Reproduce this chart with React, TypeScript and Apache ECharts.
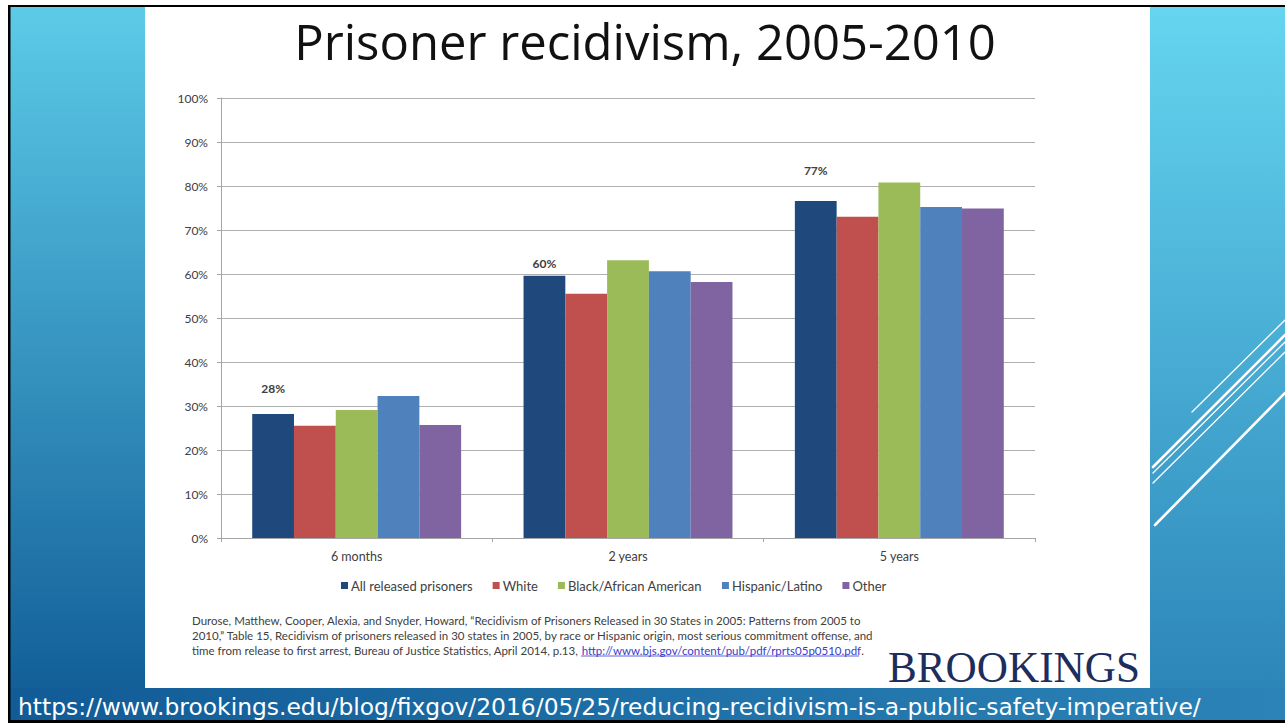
import React, { useEffect, useRef } from "react";
import * as echarts from "echarts";

const categories = ["6 months", "2 years", "5 years"];
const seriesNames = [
  "All released prisoners",
  "White",
  "Black/African American",
  "Hispanic/Latino",
  "Other",
];
const allReleased = [28.2, 59.6, 76.6];
const whiteVals = [25.5, 55.5, 73.0];
const blackVals = [29.1, 63.1, 80.8];
const hispanicVals = [32.3, 60.6, 75.2];
const otherVals = [25.7, 58.2, 74.9];
const yMin = 0;
const yMax = 100;
const yStep = 10;

const titleText = "Prisoner recidivism, 2005-2010";
const sourceLine1 =
  "Durose, Matthew, Cooper, Alexia, and Snyder, Howard, \u201CRecidivism of Prisoners Released in 30 States in 2005: Patterns from 2005 to";
const sourceLine2 =
  "2010,\u201D Table 15, Recidivism of prisoners released in 30 states in 2005, by race or Hispanic origin, most serious commitment offense, and";
const sourceLine3 =
  "time from release to first arrest, Bureau of Justice Statistics, April 2014, p.13, ";
const sourceLink = "http://www.bjs.gov/content/pub/pdf/rprts05p0510.pdf";
const urlText =
  "https://www.brookings.edu/blog/fixgov/2016/05/25/reducing-recidivism-is-a-public-safety-imperative/";

const colors = ["#1f497d", "#c0504d", "#9bbb59", "#4f81bd", "#8064a2"];
const labelDistances = [19, 6, 24];

export default function App() {
  const ref = useRef<HTMLDivElement>(null);
  useEffect(() => {
    if (!ref.current) return;
    const chart = echarts.init(ref.current, undefined, { renderer: "svg" });
    const values = [allReleased, whiteVals, blackVals, hispanicVals, otherVals];
    const font = "Lato, 'Noto Sans', sans-serif";
    const series = values.map((vals, i) => ({
      name: seriesNames[i],
      type: "bar",
      barGap: "0%",
      barCategoryGap: "23%",
      itemStyle: { color: colors[i] },
      data:
        i === 0
          ? vals.map((v, j) => ({
              value: v,
              label: { distance: labelDistances[j] },
            }))
          : vals,
      label:
        i === 0
          ? {
              show: true,
              position: "top",
              formatter: (p: any) => Math.round(p.value) + "%",
              color: "#404040",
              fontSize: 12,
              fontWeight: "bold",
              fontFamily: font,
            }
          : { show: false },
    }));
    const rightGrad = new echarts.graphic.LinearGradient(0, 0, 0, 1, [
      { offset: 0, color: "#65d5f0" },
      { offset: 1, color: "#2a82b6" },
    ]);
    const leftGrad = new echarts.graphic.LinearGradient(0, 0, 0, 1, [
      { offset: 0, color: "#5ccbe8" },
      { offset: 1, color: "#0f5a95" },
    ]);
    const stripGrad = new echarts.graphic.LinearGradient(0, 0, 1, 0, [
      { offset: 0, color: "#115b96" },
      { offset: 1, color: "#2b83b7" },
    ]);
    const lines = [
      [1192, 412, 1285, 320, 1.3],
      [1153, 467, 1285, 335, 2.6],
      [1153, 473, 1285, 342, 1.3],
      [1153, 483, 1285, 352, 1.3],
      [1155, 525, 1285, 393, 2.6],
    ];
    chart.setOption({
      animation: false,
      backgroundColor: "#ffffff",
      grid: { left: 221, right: 250, top: 98, bottom: 185 },
      legend: {
        left: 336,
        top: 574,
        icon: "rect",
        itemWidth: 7,
        itemHeight: 7,
        itemGap: 20,
        textStyle: { fontSize: 13, color: "#404040", fontFamily: font, padding: [0, 0, 0, -2] },
        data: seriesNames,
      },
      xAxis: {
        type: "category",
        data: categories,
        axisLine: { lineStyle: { color: "#a6a6a6" } },
        axisTick: { show: true, length: 4, lineStyle: { color: "#a6a6a6" } },
        axisLabel: { color: "#404040", fontSize: 12.5, fontFamily: font, margin: 12 },
      },
      yAxis: {
        type: "value",
        min: yMin,
        max: yMax,
        interval: yStep,
        axisLine: { show: true, lineStyle: { color: "#a6a6a6" } },
        axisTick: { show: true, length: 4, lineStyle: { color: "#a6a6a6" } },
        axisLabel: {
          formatter: "{value}%",
          color: "#404040",
          fontSize: 12,
          fontFamily: font,
          margin: 13,
        },
        splitLine: { lineStyle: { color: "#b0b0b0" } },
      },
      series,
      graphic: [
        { type: "rect", shape: { x: 10, y: 7, width: 135, height: 713 }, style: { fill: leftGrad }, silent: true },
        { type: "rect", shape: { x: 1150, y: 7, width: 135, height: 713 }, style: { fill: rightGrad }, silent: true },
        { type: "rect", shape: { x: 10, y: 688, width: 1275, height: 33 }, style: { fill: stripGrad }, silent: true },
        ...lines.map((l) => ({
          type: "line",
          shape: { x1: l[0], y1: l[1], x2: l[2], y2: l[3] },
          style: { stroke: "#ffffff", lineWidth: l[4], lineCap: "round" },
          silent: true,
        })),
        { type: "rect", shape: { x: 8, y: 5, width: 1277, height: 2 }, style: { fill: "#000" }, silent: true },
        { type: "rect", shape: { x: 8, y: 5, width: 2.5, height: 718 }, style: { fill: "#000" }, silent: true },
        { type: "rect", shape: { x: 8, y: 720, width: 1277, height: 3 }, style: { fill: "#000" }, silent: true },
        {
          type: "text",
          x: 645,
          y: 41,
          style: {
            text: titleText,
            fontSize: 49,
            fontFamily: "'Open Sans', sans-serif",
            fill: "#111111",
            textAlign: "center",
            textVerticalAlign: "middle",
          },
        },
        {
          type: "text",
          x: 192,
          y: 620,
          style: { text: sourceLine1, fontSize: 11.5, fontFamily: font, fill: "#404040", textVerticalAlign: "middle" },
        },
        {
          type: "text",
          x: 192,
          y: 635,
          style: { text: sourceLine2, fontSize: 11.5, fontFamily: font, fill: "#404040", textVerticalAlign: "middle" },
        },
        {
          type: "text",
          x: 192,
          y: 650,
          style: {
            text: "{a|" + sourceLine3 + "}{l|" + sourceLink + "}{a|.}",
            fontSize: 11.5,
            fontFamily: font,
            textVerticalAlign: "middle",
            rich: {
              a: { fontSize: 11.5, fontFamily: font, fill: "#404040" },
              l: { fontSize: 11.5, fontFamily: font, fill: "#3b3bc8" },
            },
          },
        },
        {
          type: "line",
          shape: { x1: 581, y1: 656, x2: 859, y2: 656 },
          style: { stroke: "#3b3bc8", lineWidth: 0.8 },
          silent: true,
        },
        {
          type: "text",
          x: 888,
          y: 667,
          scaleX: 0.96,
          style: {
            text: "BROOKINGS",
            fontSize: 45,
            fontFamily: "'Liberation Serif', serif",
            fill: "#1d2d5c",
            textVerticalAlign: "middle",
          },
        },
        {
          type: "text",
          x: 18,
          y: 707,
          style: {
            text: urlText,
            fontSize: 23.4,
            fontFamily: "'DejaVu Sans', sans-serif",
            fill: "#ffffff",
            textVerticalAlign: "middle",
          },
        },
      ],
    });
    return () => chart.dispose();
  }, []);
  return (
    <div
      ref={ref}
      style={{ position: "absolute", left: 0, top: 0, width: 1285, height: 723 }}
    />
  );
}
